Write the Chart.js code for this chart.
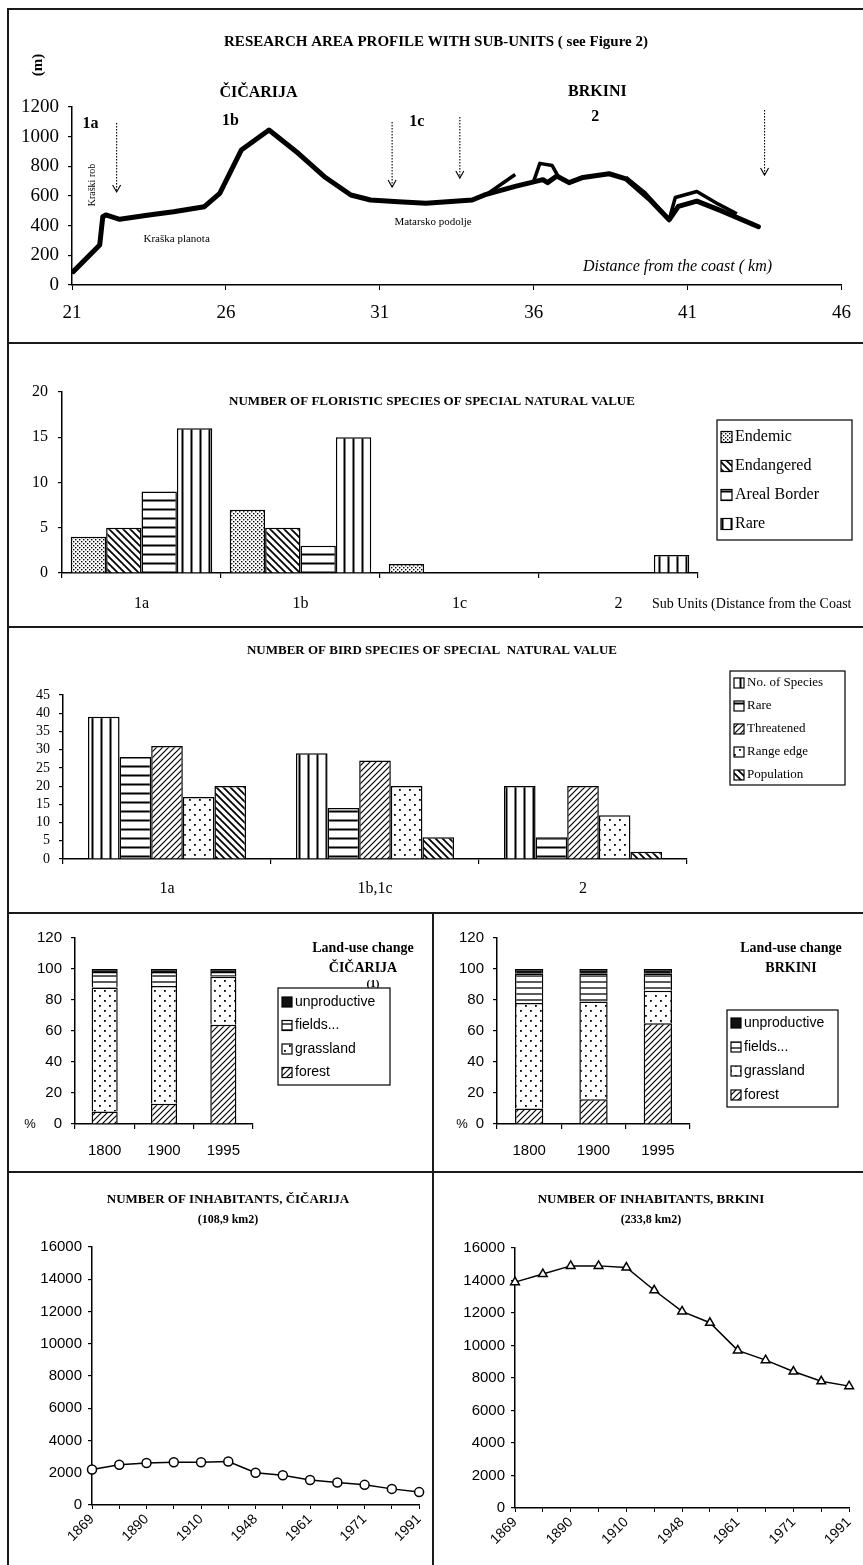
<!DOCTYPE html>
<html>
<head>
<meta charset="utf-8">
<script src="https://cdn.jsdelivr.net/npm/chart.js@4/dist/chart.umd.min.js"></script>
<style>
  body { margin: 0; background: #fff; }
  #page { position: relative; width: 863px; height: 1565px; overflow: hidden; background: #fff; }
  canvas { position: absolute; }
  .ln { position: absolute; background: #1a1a1a; }
</style>
</head>
<body>
<div id="page">
  <canvas id="profile" width="856" height="335" style="left:7px;top:8px"></canvas>
  <canvas id="flora" width="856" height="284" style="left:7px;top:343px"></canvas>
  <canvas id="birds" width="856" height="286" style="left:7px;top:627px"></canvas>
  <canvas id="landCic" width="426" height="259" style="left:7px;top:913px"></canvas>
  <canvas id="landBrk" width="430" height="259" style="left:433px;top:913px"></canvas>
  <canvas id="popCic" width="426" height="393" style="left:7px;top:1172px"></canvas>
  <canvas id="popBrk" width="430" height="393" style="left:433px;top:1172px"></canvas>

  <div class="ln" style="left:7px;top:8px;width:856px;height:1.5px"></div>
  <div class="ln" style="left:7px;top:8px;width:1.5px;height:1557px"></div>
  <div class="ln" style="left:7px;top:342px;width:856px;height:1.5px"></div>
  <div class="ln" style="left:7px;top:626px;width:856px;height:1.5px"></div>
  <div class="ln" style="left:7px;top:912px;width:856px;height:1.5px"></div>
  <div class="ln" style="left:7px;top:1171px;width:856px;height:1.5px"></div>
  <div class="ln" style="left:432px;top:912px;width:1.5px;height:653px"></div>
</div>
<script>
// ---- research area profile (km from coast, altitude m)
const profileKm = [21.04, 21.9, 22.0, 22.1, 22.55, 23.5, 24.3, 25.3, 25.8, 26.5, 27.4, 28.35, 29.2, 30.06, 30.7, 31.6, 32.5, 34.0, 34.4, 35.4, 36.3, 36.45, 36.75, 37.15, 37.6, 38.45, 39.0, 39.8, 40.4, 40.7, 41.3, 42.1, 43.3];
const profileM = [90, 270, 460, 472, 443, 472, 494, 528, 618, 910, 1045, 888, 730, 607, 573, 561, 551, 573, 607, 665, 710, 690, 735, 690, 725, 750, 715, 570, 440, 530, 565, 500, 393];
// second (overlapping) trace in Brkini, null = break
const traceKm = [34.5, 35.4, 35.7, 36.0, 36.2, 36.6, 36.8, 38.0, 39.0, 39.6, 40.4, 40.6, 41.3, 42.0, 42.6];
const traceM = [615, 745, null, 700, 820, 805, 730, null, 725, 625, 440, 590, 630, 545, 480];
const arrowKm = [22.45, 31.4, 33.6, 43.5];
const arrowTop = [1092, 1099, 1132, 1180];
const arrowBottom = [627, 660, 721, 741];

// ---- floristic species
const floraUnits = ['1a', '1b', '1c', '2'];
const floraEndemic = [4, 7, 1, 0];
const floraEndangered = [5, 5, 0, 0];
const floraAreal = [9, 3, 0, 0];
const floraRare = [16, 15, 0, 2];

// ---- bird species
const birdUnits = ['1a', '1b,1c', '2'];
const birdSpecies = [39, 29, 20];
const birdRare = [28, 14, 6];
const birdThreatened = [31, 27, 20];
const birdRange = [17, 20, 12];
const birdPopulation = [20, 6, 2];

// ---- land use (%)
const landYears = ['1800', '1900', '1995'];
const cicForest = [8, 13, 64];
const cicGrass = [80, 76, 31];
const cicFields = [10, 9, 3];
const cicUnprod = [2, 2, 2];
const brkForest = [10, 16, 65];
const brkGrass = [68, 63, 21];
const brkFields = [19, 18, 11];
const brkUnprod = [3, 3, 3];

// ---- inhabitants
const popYears = ['1869', '1880', '1890', '1900', '1910', '1921', '1948', '1953', '1961', '1966', '1971', '1981', '1991'];
const cicPop = [2200, 2500, 2600, 2650, 2650, 2700, 2000, 1850, 1550, 1400, 1250, 1000, 800];
const brkPop = [13900, 14400, 14900, 14900, 14800, 13400, 12100, 11400, 9700, 9100, 8400, 7800, 7500];

const SERIF = '"Liberation Serif", "DejaVu Serif", serif';
const SANS = '"Liberation Sans", Arial, sans-serif';

Chart.defaults.animation = false;
Chart.defaults.color = '#000';
Chart.defaults.font.family = SERIF;
Chart.defaults.plugins.legend.display = false;
Chart.defaults.plugins.tooltip.enabled = false;

// fill patterns like the old b/w print
function pattern(kind) {
  const c = document.createElement('canvas');
  const s = { vlines: 9, hlines: 9, fields: 6, fwd: 6, back: 7, dots: 10, stipple: 4 }[kind] || 4;
  c.width = s; c.height = s;
  const g = c.getContext('2d');
  g.fillStyle = '#fff';
  g.fillRect(0, 0, s, s);
  g.strokeStyle = '#000';
  g.fillStyle = '#000';
  if (kind === 'vlines') { g.lineWidth = 2; g.beginPath(); g.moveTo(4.5, 0); g.lineTo(4.5, s); g.stroke(); }
  if (kind === 'hlines') { g.lineWidth = 2; g.beginPath(); g.moveTo(0, 4.5); g.lineTo(s, 4.5); g.stroke(); }
  if (kind === 'fields') { g.lineWidth = 1.3; g.beginPath(); g.moveTo(0, 3); g.lineTo(s, 3); g.stroke(); }
  if (kind === 'fwd') {
    g.lineWidth = 1.2; g.beginPath();
    g.moveTo(0, s); g.lineTo(s, 0); g.moveTo(-1, 1); g.lineTo(1, -1); g.moveTo(s - 1, s + 1); g.lineTo(s + 1, s - 1);
    g.stroke();
  }
  if (kind === 'back') {
    g.lineWidth = 1.8; g.beginPath();
    g.moveTo(0, 0); g.lineTo(s, s); g.moveTo(s - 1, -1); g.lineTo(s + 1, 1); g.moveTo(-1, s - 1); g.lineTo(1, s + 1);
    g.stroke();
  }
  if (kind === 'dots') { g.fillRect(2, 2, 1.8, 1.8); g.fillRect(7, 7, 1.8, 1.8); }
  if (kind === 'stipple') { g.fillRect(0, 0, 1.4, 1.4); g.fillRect(2, 2, 1.4, 1.4); }
  if (kind === 'black') { g.fillStyle = '#111'; g.fillRect(0, 0, s, s); }
  return g.createPattern(c, 'repeat');
}

// extra texts, arrows and boxed legends drawn per canvas
const deco = {};
Chart.register({
  id: 'deco',
  afterDatasetsDraw(chart) {
    const d = deco[chart.canvas.id];
    if (!d) return;
    const ctx = chart.ctx;
    const xs = chart.scales.x, ys = chart.scales.y;
    (d.arrows || []).forEach((a) => {
      const x = xs.getPixelForValue(a.x);
      const y0 = ys.getPixelForValue(a.top), y1 = ys.getPixelForValue(a.bottom);
      ctx.save();
      ctx.strokeStyle = '#000';
      ctx.lineWidth = 1.1;
      ctx.setLineDash([1.5, 1.5]);
      ctx.beginPath(); ctx.moveTo(x, y0); ctx.lineTo(x, y1); ctx.stroke();
      ctx.setLineDash([]);
      ctx.beginPath(); ctx.moveTo(x - 4, y1 - 7); ctx.lineTo(x, y1); ctx.lineTo(x + 4, y1 - 7); ctx.stroke();
      ctx.restore();
    });
    (d.texts || []).forEach((t) => {
      const px = t.data ? xs.getPixelForValue(t.x) : t.x;
      const py = t.data ? ys.getPixelForValue(t.y) : t.y;
      ctx.save();
      ctx.translate(px, py);
      if (t.rot) ctx.rotate(t.rot * Math.PI / 180);
      ctx.font = t.font;
      ctx.fillStyle = '#000';
      ctx.textAlign = t.align || 'center';
      ctx.textBaseline = 'middle';
      ctx.fillText(t.t, 0, 0);
      ctx.restore();
    });
    const L = d.legend;
    if (L) {
      ctx.save();
      ctx.fillStyle = '#fff';
      ctx.fillRect(L.x, L.y, L.w, L.h);
      ctx.strokeStyle = '#000';
      ctx.lineWidth = 1.2;
      ctx.strokeRect(L.x, L.y, L.w, L.h);
      L.order.forEach((idx, k) => {
        const ds = chart.data.datasets[idx];
        const cy = L.y0 + k * L.step;
        ctx.fillStyle = ds.backgroundColor;
        ctx.fillRect(L.x + 4, cy - L.s / 2, L.s, L.s);
        ctx.strokeRect(L.x + 4, cy - L.s / 2, L.s, L.s);
        ctx.fillStyle = '#000';
        ctx.font = L.font;
        ctx.textAlign = 'left';
        ctx.textBaseline = 'middle';
        ctx.fillText(ds.label, L.x + 7 + L.s, cy);
      });
      ctx.restore();
    }
  }
});

function yScale(min, max, step, w, size, family, pad) {
  return {
    min, max,
    ticks: { stepSize: step, font: { size, family }, padding: pad, autoSkip: false, format: { useGrouping: false } },
    grid: { drawOnChartArea: false, tickLength: 4, color: '#000', lineWidth: 1.2 },
    border: { color: '#000', width: 1.5 },
    afterFit: (s) => { s.width = w; }
  };
}
function xCat(h, size, family, pad, extra) {
  return Object.assign({
    ticks: { font: { size, family }, padding: pad, autoSkip: false, maxRotation: 0 },
    grid: { drawOnChartArea: false, tickLength: 5, color: '#000', lineWidth: 1.2 },
    border: { color: '#000', width: 1.5 },
    afterFit: (s) => { s.height = h; }
  }, extra || {});
}
const barStyle = { borderColor: '#000', borderWidth: 1.5, borderSkipped: 'start' };

// ---------------- profile
deco.profile = {
  arrows: arrowKm.map((x, i) => ({ x, top: arrowTop[i], bottom: arrowBottom[i] })),
  texts: [
    { t: 'RESEARCH AREA PROFILE WITH SUB-UNITS ( see Figure 2)', x: 429, y: 34, font: 'bold 15px ' + SERIF },
    { t: '(m)', x: 31, y: 57, rot: -90, font: 'bold 15px ' + SERIF },
    { t: 'ČIČARIJA', x: 27.06, y: 1294, data: true, font: 'bold 16px ' + SERIF },
    { t: '1a', x: 21.6, y: 1085, data: true, font: 'bold 16px ' + SERIF },
    { t: '1b', x: 26.15, y: 1105, data: true, font: 'bold 16px ' + SERIF },
    { t: '1c', x: 32.2, y: 1099, data: true, font: 'bold 16px ' + SERIF },
    { t: 'BRKINI', x: 38.07, y: 1301, data: true, font: 'bold 16px ' + SERIF },
    { t: '2', x: 38.0, y: 1132, data: true, font: 'bold 16px ' + SERIF },
    { t: 'Kraški rob', x: 21.65, y: 674, data: true, rot: -90, font: '10px ' + SERIF },
    { t: 'Kraška planota', x: 24.4, y: 310, data: true, font: '11px ' + SERIF },
    { t: 'Matarsko podolje', x: 32.73, y: 425, data: true, font: '11px ' + SERIF },
    { t: 'Distance from the coast ( km)', x: 37.6, y: 121, data: true, align: 'left', font: 'italic 16px ' + SERIF }
  ]
};
new Chart(document.getElementById('profile'), {
  type: 'line',
  data: {
    datasets: [
      { data: profileKm.map((x, i) => ({ x, y: profileM[i] })), borderColor: '#000', borderWidth: 5, pointRadius: 0, tension: 0, borderJoinStyle: 'round', borderCapStyle: 'round' },
      { data: traceKm.map((x, i) => ({ x, y: traceM[i] })), borderColor: '#000', borderWidth: 3.5, pointRadius: 0, tension: 0, borderJoinStyle: 'round' }
    ]
  },
  options: {
    responsive: false, events: [],
    layout: { padding: { left: 0, right: 15, top: 99, bottom: 0 } },
    scales: {
      x: {
        type: 'linear', min: 21, max: 46,
        ticks: { stepSize: 5, font: { size: 19 }, padding: 12 },
        grid: { drawOnChartArea: false, tickLength: 5, color: '#000' },
        border: { color: '#000', width: 1.5 },
        afterFit: (s) => { s.height = 58; }
      },
      y: yScale(0, 1200, 200, 65, 19, SERIF, 9)
    }
  }
});

// ---------------- floristic species
const pEndemic = pattern('stipple'), pBack = pattern('back'), pH = pattern('hlines'), pV = pattern('vlines');
deco.flora = {
  texts: [
    { t: 'NUMBER OF FLORISTIC SPECIES OF SPECIAL NATURAL VALUE', x: 425, y: 59, font: 'bold 13px ' + SERIF },
    { t: 'Sub Units (Distance from the Coast', x: 645, y: 261, align: 'left', font: '14px ' + SERIF }
  ],
  legend: { x: 710, y: 77, w: 135, h: 120, y0: 94, step: 29, s: 11, order: [0, 1, 2, 3], font: '16px ' + SERIF }
};
new Chart(document.getElementById('flora'), {
  type: 'bar',
  data: {
    labels: floraUnits,
    datasets: [
      Object.assign({ label: 'Endemic', data: floraEndemic, backgroundColor: pEndemic }, barStyle),
      Object.assign({ label: 'Endangered', data: floraEndangered, backgroundColor: pBack }, barStyle),
      Object.assign({ label: 'Areal Border', data: floraAreal, backgroundColor: pH }, barStyle),
      Object.assign({ label: 'Rare', data: floraRare, backgroundColor: pV }, barStyle)
    ]
  },
  options: {
    responsive: false, events: [],
    categoryPercentage: 0.89, barPercentage: 1,
    layout: { padding: { left: 0, right: 165, top: 49, bottom: 0 } },
    scales: {
      x: xCat(54, 16, SERIF, 16),
      y: yScale(0, 20, 5, 55, 16, SERIF, 10)
    }
  }
});

// ---------------- bird species
deco.birds = {
  texts: [
    { t: 'NUMBER OF BIRD SPECIES OF SPECIAL  NATURAL VALUE', x: 425, y: 24, font: 'bold 13px ' + SERIF }
  ],
  legend: { x: 723, y: 44, w: 115, h: 114, y0: 56, step: 23, s: 10, order: [0, 1, 2, 3, 4], font: '13px ' + SERIF }
};
new Chart(document.getElementById('birds'), {
  type: 'bar',
  data: {
    labels: birdUnits,
    datasets: [
      Object.assign({ label: 'No. of Species', data: birdSpecies, backgroundColor: pattern('vlines') }, barStyle),
      Object.assign({ label: 'Rare', data: birdRare, backgroundColor: pattern('hlines') }, barStyle),
      Object.assign({ label: 'Threatened', data: birdThreatened, backgroundColor: pattern('fwd') }, barStyle),
      Object.assign({ label: 'Range edge', data: birdRange, backgroundColor: pattern('dots') }, barStyle),
      Object.assign({ label: 'Population', data: birdPopulation, backgroundColor: pattern('back') }, barStyle)
    ]
  },
  options: {
    responsive: false, events: [],
    categoryPercentage: 0.76, barPercentage: 1,
    layout: { padding: { left: 0, right: 176, top: 68, bottom: 0 } },
    scales: {
      x: xCat(54, 16, SERIF, 15),
      y: yScale(0, 45, 5, 56, 14, SERIF, 9)
    }
  }
});

// ---------------- land-use change (stacked %)
function landChart(id, forest, grass, fields, unprod, yW, rightPad) {
  return new Chart(document.getElementById(id), {
    type: 'bar',
    data: {
      labels: landYears,
      datasets: [
        Object.assign({ label: 'forest', data: forest, backgroundColor: pattern('fwd') }, barStyle),
        Object.assign({ label: 'grassland', data: grass, backgroundColor: pattern('dots') }, barStyle),
        Object.assign({ label: 'fields...', data: fields, backgroundColor: pattern('fields') }, barStyle),
        Object.assign({ label: 'unproductive', data: unprod, backgroundColor: pattern('black') }, barStyle)
      ]
    },
    options: {
      responsive: false, events: [],
      categoryPercentage: 1, barPercentage: 0.44,
      layout: { padding: { left: 0, right: rightPad, top: 25, bottom: 0 } },
      scales: {
        x: xCat(48, 15, SANS, 13, { stacked: true }),
        y: Object.assign(yScale(0, 120, 20, yW, 15, SANS, 9), { stacked: true })
      }
    }
  });
}
deco.landCic = {
  texts: [
    { t: 'Land-use change', x: 356, y: 35, font: 'bold 14px ' + SERIF },
    { t: 'ČIČARIJA', x: 356, y: 55, font: 'bold 14px ' + SERIF },
    { t: '(1)', x: 366, y: 71, font: 'bold 11px ' + SERIF },
    { t: '%', x: 23, y: 211, font: '13px ' + SANS }
  ],
  legend: { x: 271, y: 75, w: 112, h: 97, y0: 89, step: 23.5, s: 10, order: [3, 2, 1, 0], font: '14px ' + SANS }
};
deco.landBrk = {
  texts: [
    { t: 'Land-use change', x: 358, y: 35, font: 'bold 14px ' + SERIF },
    { t: 'BRKINI', x: 358, y: 55, font: 'bold 14px ' + SERIF },
    { t: '%', x: 29, y: 211, font: '13px ' + SANS }
  ],
  legend: { x: 294, y: 97, w: 111, h: 97, y0: 110, step: 24, s: 10, order: [3, 2, 1, 0], font: '14px ' + SANS }
};
landChart('landCic', cicForest, cicGrass, cicFields, cicUnprod, 68, 180);
landChart('landBrk', brkForest, brkGrass, brkFields, brkUnprod, 64, 173);

// ---------------- inhabitants
function popChart(id, values, style, yW, rightPad, top) {
  return new Chart(document.getElementById(id), {
    type: 'line',
    data: {
      labels: popYears,
      datasets: [{
        data: values, borderColor: '#000', borderWidth: 1.5, tension: 0,
        pointStyle: style, pointRadius: style === 'triangle' ? 5 : 4.5,
        pointBackgroundColor: '#fff', pointBorderColor: '#000', pointBorderWidth: 1.5
      }]
    },
    options: {
      responsive: false, events: [],
      layout: { padding: { left: 0, right: rightPad, top, bottom: 0 } },
      scales: {
        x: {
          offset: false,
          ticks: {
            font: { size: 14, family: SANS }, padding: 2, autoSkip: false, minRotation: 45, maxRotation: 45,
            callback: (v, i) => (i % 2 === 0 ? popYears[i] : '')
          },
          grid: { drawOnChartArea: false, tickLength: 4, color: '#000' },
          border: { color: '#000', width: 1.5 },
          afterFit: (s) => { s.height = 393 - top - 258 - (id === 'popBrk' ? 2 : 0); }
        },
        y: yScale(0, 16000, 2000, yW, 15, SANS, 6)
      }
    }
  });
}
deco.popCic = {
  texts: [
    { t: 'NUMBER OF INHABITANTS, ČIČARIJA', x: 221, y: 28, font: 'bold 13px ' + SERIF },
    { t: '(108,9 km2)', x: 221, y: 48, font: 'bold 12px ' + SERIF }
  ]
};
deco.popBrk = {
  texts: [
    { t: 'NUMBER OF INHABITANTS, BRKINI', x: 218, y: 28, font: 'bold 13px ' + SERIF },
    { t: '(233,8 km2)', x: 218, y: 48, font: 'bold 12px ' + SERIF }
  ]
};
popChart('popCic', cicPop, 'circle', 85, 8, 75);
popChart('popBrk', brkPop, 'triangle', 82, 1, 76);
</script>
</body>
</html>
